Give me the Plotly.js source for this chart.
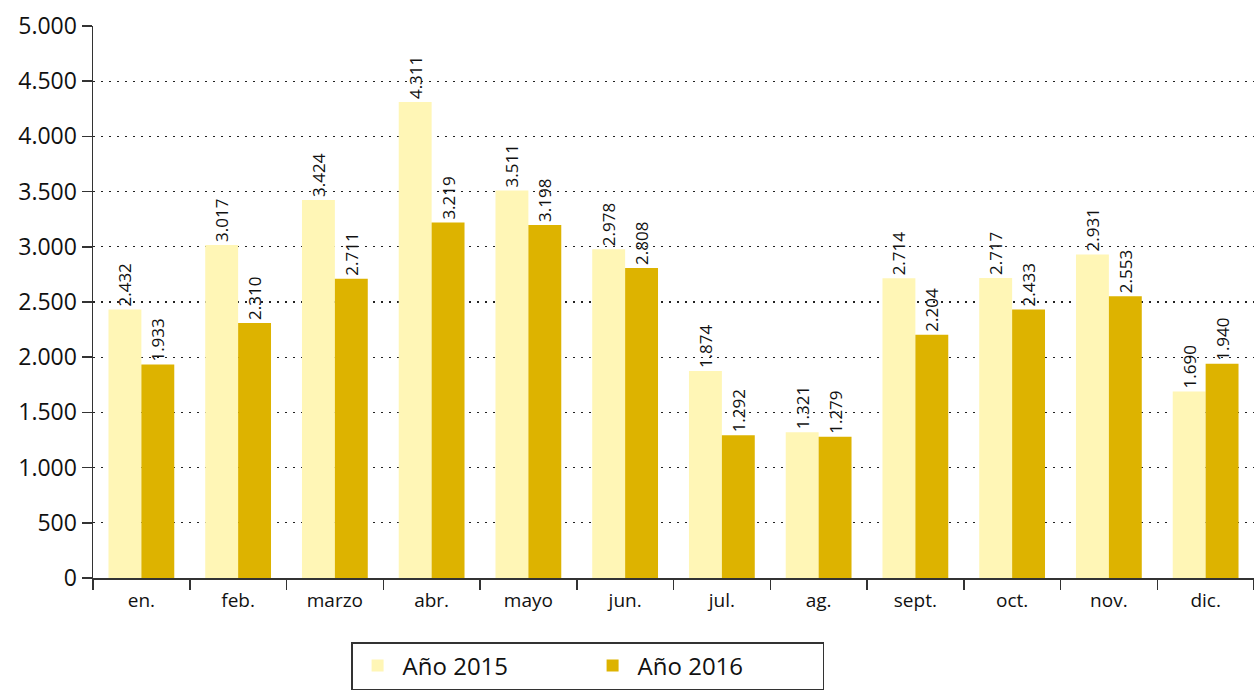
<!DOCTYPE html>
<html>
<head>
<meta charset="utf-8">
<script src="https://cdn.plot.ly/plotly-3.0.1.min.js"></script>
<style>html,body{margin:0;padding:0;background:#fff;}#chart{width:1254px;height:690px;}</style>
</head>
<body>
<div id="chart"></div>
<script>
var months = ["en.","feb.","marzo","abr.","mayo","jun.","jul.","ag.","sept.","oct.","nov.","dic."];
var values2015 = [2432,3017,3424,4311,3511,2978,1874,1321,2714,2717,2931,1690];
var values2016 = [1933,2310,2711,3219,3198,2808,1292,1279,2204,2433,2553,1940];
var seriesNames = ["Año 2015","Año 2016"];
var yTicks = [0,500,1000,1500,2000,2500,3000,3500,4000,4500,5000];

var FONT = "'Open Sans', 'Noto Sans', sans-serif";
function mk(name, vals, color){
  return {
    type:'bar', name:name, x:months, y:vals,
    marker:{color:color, line:{width:0}},
    text: vals, texttemplate:'%{y:,d}', textposition:'outside', textangle:-90,
    textfont:{family:FONT, size:17, color:'#111'},
    constraintext:'none', cliponaxis:false, hoverinfo:'x+y'
  };
}
var data = [mk(seriesNames[0], values2015, '#FFF6B6'), mk(seriesNames[1], values2016, '#DDB300')];
var layout = {
  width:1254, height:690,
  margin:{l:93, r:0, t:26, b:112},
  separators:',.',
  paper_bgcolor:'#fff', plot_bgcolor:'#fff',
  barmode:'group', bargap:0.32, bargroupgap:0,
  font:{family:FONT, color:'#111'},
  xaxis:{
    tickmode:'array', tickvals:months, ticktext:months,
    tickson:'boundaries', ticks:'outside', ticklen:10, tickcolor:'#333', tickwidth:1.5,
    ticklabelstandoff:5,
    showline:true, linecolor:'#333', linewidth:1.5,
    tickfont:{family:FONT, size:19, color:'#111'},
    showgrid:false, zeroline:false
  },
  yaxis:{
    range:[0,5000], tickmode:'array', tickvals:yTicks, separatethousands:true, tickformat:',d',
    ticks:'outside', ticklen:10, tickcolor:'#333', tickwidth:1.5,
    showline:true, linecolor:'#333', linewidth:1.5,
    showgrid:true, gridcolor:'#222', griddash:'2px,6px', gridwidth:1.3,
    tickfont:{family:FONT, size:23, color:'#111'},
    zeroline:false
  },
  showlegend:true,
  legend:{
    orientation:'h', x:0.426, xanchor:'center', y:-0.116, yanchor:'top',
    bordercolor:'#333', borderwidth:1.5, bgcolor:'#fff',
    font:{family:FONT, size:24, color:'#111'},
    entrywidth:180, itemwidth:40, traceorder:'normal'
  }
};
Plotly.newPlot('chart', data, layout, {displayModeBar:false, staticPlot:true});
</script>
</body>
</html>
